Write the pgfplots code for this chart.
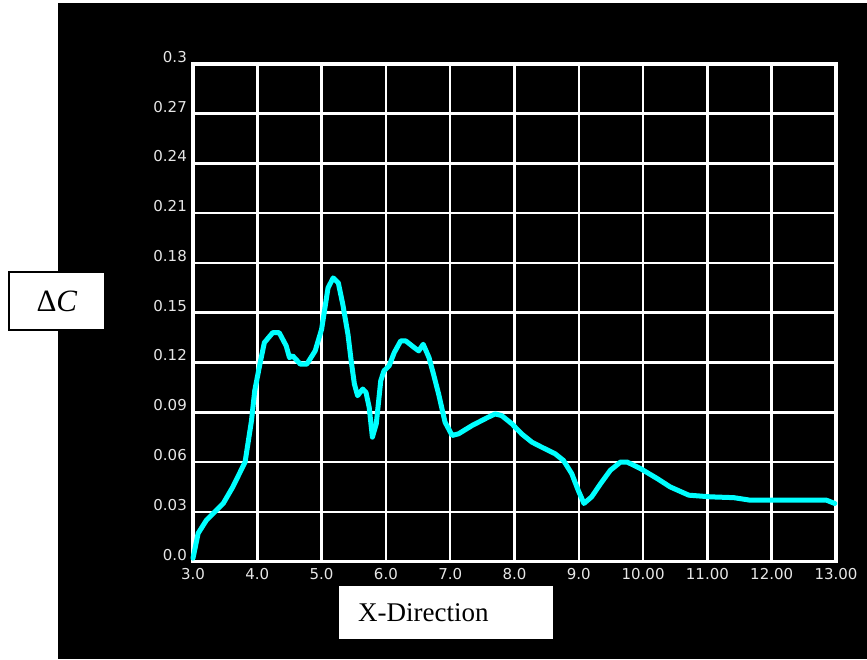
\documentclass[border=0pt]{standalone}
\usepackage{fontspec}
\setmainfont{Liberation Serif}
\newfontfamily\tickfont{DejaVu Sans}
\usepackage{pgfplots}
\pgfplotsset{compat=1.18}
\definecolor{ticklab}{RGB}{230,230,230}
\definecolor{curve}{RGB}{0,255,255}
\begin{document}
\begin{tikzpicture}[x=1pt,y=1pt]
\fill[white] (0,0) rectangle (867,659);
\fill[black] (58,0) rectangle (867,656);
\begin{axis}[
  scale only axis,
  width=643pt, height=497.5pt,
  at={(193pt,97.5pt)}, anchor=south west,
  xmin=3, xmax=13, ymin=0, ymax=0.3,
  xtick={3,4,5,6,7,8,9,10,11,12,13},
  xticklabels={3.0,4.0,5.0,6.0,7.0,8.0,9.0,10.00,11.00,12.00,13.00},
  ytick={0,0.03,0.06,0.09,0.12,0.15,0.18,0.21,0.24,0.27,0.3},
  yticklabels={0.0,0.03,0.06,0.09,0.12,0.15,0.18,0.21,0.24,0.27,0.3},
  major tick length=0pt,
  grid=major,
  major grid style={white, line width=2.5pt},
  axis line style={white, line width=3.5pt},
  ticklabel style={font=\tickfont\fontsize{15}{15}\selectfont, text=ticklab, inner sep=0pt},
  yticklabel style={anchor=base east, xshift=-6pt, yshift=1.5pt},
  xticklabel style={anchor=north, yshift=-6.5pt},
  /pgf/number format/assume math mode=true,
  clip=false,
]
\addplot[curve, line width=5pt, line join=round, line cap=round] coordinates {
(3.00,0.002) (3.08,0.017) (3.21,0.025) (3.47,0.035) (3.62,0.045) (3.81,0.060)
(3.91,0.085) (3.96,0.103) (4.04,0.119) (4.11,0.132) (4.24,0.138) (4.34,0.138)
(4.45,0.130) (4.50,0.123) (4.55,0.124) (4.67,0.119) (4.77,0.119) (4.90,0.127)
(5.00,0.140) (5.10,0.165) (5.18,0.171) (5.26,0.168) (5.33,0.155) (5.41,0.137)
(5.46,0.121) (5.51,0.107) (5.56,0.100) (5.64,0.104) (5.69,0.102) (5.74,0.093)
(5.79,0.075) (5.85,0.083) (5.92,0.109) (5.97,0.115) (6.05,0.118) (6.13,0.126)
(6.23,0.133) (6.31,0.133) (6.44,0.129) (6.51,0.127) (6.58,0.131) (6.67,0.123)
(6.74,0.113) (6.82,0.101) (6.92,0.084) (7.03,0.076) (7.13,0.077) (7.34,0.082)
(7.49,0.085) (7.59,0.087) (7.70,0.089) (7.80,0.088) (7.96,0.083) (8.11,0.077)
(8.27,0.072) (8.42,0.069) (8.63,0.065) (8.76,0.061) (8.89,0.053) (8.99,0.043)
(9.08,0.035) (9.20,0.039) (9.34,0.047) (9.49,0.055) (9.65,0.060) (9.75,0.060)
(9.96,0.056) (10.22,0.050) (10.42,0.045) (10.71,0.040) (11.04,0.039) (11.41,0.0385)
(11.66,0.037) (12.18,0.037) (12.85,0.037) (12.98,0.035)
};
\end{axis}
\draw[black, fill=white, line width=1.5pt] (9,329) rectangle (105,387);
\node[inner sep=0pt] at (57,358) {\fontsize{31}{31}\selectfont Δ\textit{C}};
\fill[white] (339,20) rectangle (553,73);
\node[inner sep=0pt, anchor=west] at (358,46.5) {\fontsize{27}{27}\selectfont X-Direction};
\pgfresetboundingbox
\useasboundingbox (0,0) rectangle (867,659);
\end{tikzpicture}
\end{document}
